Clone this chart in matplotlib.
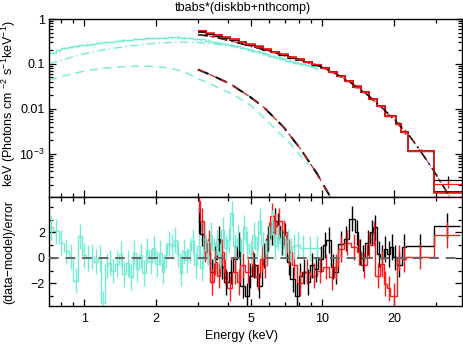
import numpy as np
import matplotlib
matplotlib.use("Agg")
import matplotlib.pyplot as plt
from matplotlib.ticker import FixedLocator, FixedFormatter, NullFormatter

plt.rcParams['font.family'] = ['Liberation Sans', 'DejaVu Sans']
plt.rcParams['mathtext.fontset'] = 'custom'
plt.rcParams['mathtext.rm'] = 'Liberation Sans'
plt.rcParams['mathtext.default'] = 'regular'
plt.rcParams['font.size'] = 9

# ---- NICER (cyan) spectrum, top panel: keV^2 * counts
nicer_edges = [0.71, 0.76, 0.80, 0.85, 0.90, 0.95, 1.0, 1.06, 1.12, 1.19,
               1.26, 1.34, 1.42, 1.5, 1.6, 1.7, 1.8, 1.9, 2.0, 2.12,
               2.25, 2.4, 2.55, 2.7, 2.85, 3.0, 3.2, 3.4, 3.6, 3.8,
               4.0, 4.25, 4.5, 4.75, 5.0, 5.3, 5.6, 5.9, 6.2, 6.6,
               7.0, 7.5, 8.0, 8.5, 9.0, 9.6]
nicer_flux = [0.175, 0.20, 0.225, 0.235, 0.245, 0.26, 0.27, 0.28, 0.29, 0.30,
              0.31, 0.325, 0.335, 0.345, 0.355, 0.365, 0.37, 0.375, 0.38, 0.385,
              0.39, 0.39, 0.385, 0.375, 0.365, 0.35, 0.33, 0.305, 0.29, 0.275,
              0.26, 0.245, 0.225, 0.21, 0.195, 0.18, 0.165, 0.152, 0.14, 0.128,
              0.115, 0.105, 0.097, 0.093, 0.09]
nicer_relerr = 0.06

# NICER model components
nicer_nth_e = [0.71, 0.8, 0.9, 1.0, 1.2, 1.5, 2.0, 2.5, 3.0, 3.5, 4.2, 5.0, 6.0, 7.0, 8.0, 9.0, 9.9]
nicer_nth = [0.10, 0.12, 0.145, 0.168, 0.205, 0.245, 0.29, 0.305, 0.30, 0.28, 0.245, 0.205,
             0.16, 0.128, 0.102, 0.085, 0.072]
nicer_disk_e = [0.71, 0.8, 0.9, 1.0, 1.2, 1.5, 1.8, 2.0, 2.3, 2.6, 3.0, 3.5, 4.2, 5.0, 6.0, 7.3, 8.8]
nicer_disk = [0.043, 0.052, 0.061, 0.069, 0.080, 0.088, 0.089, 0.087, 0.080, 0.068, 0.047,
              0.033, 0.021, 0.012, 0.0048, 0.0017, 0.00055]

# ---- NuSTAR FPMA (black) / FPMB (red), top panel
nu_edges = [3.0, 3.25, 3.5, 3.8, 4.1, 4.45, 4.8, 5.2, 5.65, 6.1,
            6.6, 7.15, 7.75, 8.4, 9.1, 9.85, 10.65, 11.5, 12.45, 13.45,
            14.55, 15.75, 17.05, 18.45, 20.4, 21.5, 23.0, 29.4, 39.0]
fpma_model = [0.52, 0.475, 0.43, 0.385, 0.345, 0.305, 0.27, 0.238, 0.208, 0.182,
              0.158, 0.137, 0.125, 0.109, 0.094, 0.080, 0.066, 0.053, 0.041, 0.031,
              0.0232, 0.0165, 0.0113, 0.0069, 0.0045, 0.0031, 0.00115, 0.00014]
fpmb_model = [0.54, 0.49, 0.445, 0.398, 0.356, 0.315, 0.278, 0.245, 0.214, 0.187,
              0.162, 0.140, 0.128, 0.111, 0.096, 0.081, 0.067, 0.054, 0.042, 0.0315,
              0.0235, 0.0167, 0.0114, 0.0070, 0.0046, 0.0031, 0.00115, 0.000135]
fpma_flux = [0.53, 0.47, 0.425, 0.39, 0.34, 0.30, 0.268, 0.24, 0.21, 0.183,
             0.16, 0.138, 0.126, 0.108, 0.095, 0.081, 0.067, 0.054, 0.042, 0.0305,
             0.0235, 0.0168, 0.0115, 0.0069, 0.0046, 0.0031, 0.00117, 0.00026]
fpmb_flux = [0.56, 0.485, 0.44, 0.395, 0.35, 0.312, 0.275, 0.243, 0.212, 0.188,
             0.163, 0.141, 0.127, 0.11, 0.097, 0.080, 0.066, 0.053, 0.0415, 0.031,
             0.0232, 0.0165, 0.0113, 0.0070, 0.0045, 0.0031, 0.00116, 0.00021]
nu_relerr = [0.02, 0.02, 0.02, 0.02, 0.02, 0.02, 0.02, 0.02, 0.02, 0.02,
             0.02, 0.025, 0.025, 0.025, 0.03, 0.03, 0.03, 0.035, 0.035, 0.04,
             0.045, 0.05, 0.055, 0.06, 0.08, 0.1, 0.08, 0.2]

nu_nth_e = [3.0, 3.5, 4.1, 4.83, 5.7, 6.66, 8.0, 9.5, 11.2, 13.1, 15.4, 18.1, 20.5,
            23.4, 26.0, 29.4, 33.4, 36.0]
nu_nth = [0.45, 0.40, 0.327, 0.26, 0.207, 0.163, 0.125, 0.094, 0.064, 0.039, 0.021,
          0.0098, 0.0051, 0.0024, 0.0011, 0.00042, 0.00014, 0.00007]
nu_disk_e = [3.0, 3.5, 4.1, 5.0, 5.66, 6.88, 8.08, 9.5, 10.8]
nu_disk = [0.075, 0.053, 0.036, 0.018, 0.011, 0.0039, 0.0013, 0.00036, 0.00011]

# ---- residuals (data-model)/error
nicer_res_edges = [0.71, 0.74, 0.78, 0.82, 0.86, 0.90, 0.94, 0.98, 1.02, 1.06,
                   1.10, 1.14, 1.18, 1.22, 1.26, 1.30, 1.345, 1.395, 1.445, 1.495,
                   1.545, 1.595, 1.645, 1.695, 1.75, 1.81, 1.87, 1.93, 1.99, 2.05,
                   2.11, 2.17, 2.235, 2.305, 2.375, 2.445, 2.515, 2.585, 2.66, 2.74,
                   2.82, 2.90, 2.985, 3.075, 3.165, 3.255, 3.35, 3.45, 3.55, 3.655,
                   3.765, 3.875, 3.99, 4.11, 4.235, 4.365, 4.495, 4.63, 4.775, 4.925,
                   5.075, 5.225, 5.38, 5.545, 5.715, 5.89, 6.07, 6.255, 6.445, 6.64,
                   6.845, 7.055, 7.27, 7.49, 7.72, 8.05, 8.6, 9.2, 9.9]
nicer_res = [2.4, 2.1, 1.2, 0.5, 0.1, -1.8, 1.7, 0.2, 0.0, 0.1,
             -0.3, 0.0, -3.6, -0.6, -0.4, -1.0, -0.5, 0.3, -1.3, -0.4,
             -1.5, 0.4, -0.9, 0.2, -1.2, 0.6, -0.3, 0.8, -0.5, 0.4,
             -1.1, 0.2, 1.1, 0.9, 1.4, 0.3, -1.2, 0.5, -0.2, 0.6,
             1.3, -0.6, 0.9, -0.8, 1.5, 0.4, 1.8, 0.6, 1.2, 0.2,
             2.2, 0.8, 1.4, 3.5, 0.9, 1.6, 0.5, 2.4, 1.1, 0.3,
             1.8, 0.7, 2.9, 1.0, 0.4, 1.5, 2.8, 0.9, 1.6, 1.2,
             0.8, 1.3, 0.6, 0.9, 1.0, 0.8, 0.75, 0.75]

fpma_res_edges = [3.0, 3.07, 3.17, 3.26, 3.36, 3.5, 3.6, 3.73, 3.86, 4.05,
                  4.22, 4.38, 4.53, 4.73, 4.9, 5.08, 5.3, 5.58, 5.82, 6.04,
                  6.24, 6.44, 6.66, 6.88, 7.1, 7.35, 7.7, 7.95, 8.25, 8.6,
                  8.9, 9.2, 9.6, 10.1, 10.4, 10.9, 11.2, 11.7, 12.3, 13.0,
                  13.7, 14.2, 14.6, 15.2, 15.9, 16.4, 17.0, 17.5, 18.1, 18.7,
                  19.3, 19.9, 20.6, 21.6, 22.6, 29.4, 38.0]
fpma_res = [2.9, 1.9, 0.9, 0.5, -1.1, -0.1, 1.5, -0.7, -1.9, -1.1,
            -0.1, 1.0, -2.2, -3.0, -1.4, -0.6, -2.2, 0.2, 1.5, 2.0,
            2.9, 2.5, 1.2, 1.75, -0.35, -1.7, -3.0, -1.4, -1.1, -1.9,
            -0.6, -0.9, -0.1, 1.0, 1.4, -0.7, -1.1, 1.1, 1.5, 3.1,
            2.0, 0.45, 0.0, 1.2, 2.0, 2.4, 0.3, 0.0, 0.7, 0.3,
            0.85, 0.05, -0.55, 0.85, 0.9, 2.55]

fpmb_res_edges = [3.0, 3.07, 3.17, 3.28, 3.39, 3.5, 3.61, 3.73, 3.86, 3.98,
                  4.18, 4.38, 4.53, 4.73, 4.98, 5.22, 5.49, 5.66, 5.86, 6.04,
                  6.24, 6.44, 6.77, 7.1, 7.45, 7.83, 8.33, 8.9, 9.5, 10.1,
                  10.7, 11.2, 11.7, 12.3, 13.2, 14.0, 14.6, 15.4, 16.2, 16.7,
                  17.5, 18.1, 18.7, 19.3, 20.6, 21.6, 22.6, 29.4, 38.0]
fpmb_res = [4.5, 2.9, 0.7, 1.2, -1.9, -0.35, -1.4, 0.45, -1.1, -2.4,
            -1.1, -1.9, -0.6, -1.1, -0.5, -1.5, -0.1, -0.6, 1.8, 3.3,
            2.55, 2.9, 2.0, 0.45, -0.6, -2.0, -1.1, -1.4, -1.0, -0.7,
            -1.5, -0.7, 0.7, 1.2, 0.85, 0.45, -0.6, 1.0, 1.9, -1.4,
            -0.5, -2.05, -2.4, -3.0, 0.05, -0.1, 0.1, 1.8]
res_err = 1.0

CYAN = '#74ecd4'
RED = '#ff1a1a'


def mids(edges):
    e = np.asarray(edges)
    return np.sqrt(e[:-1] * e[1:])


def xerrs(edges):
    e = np.asarray(edges)
    c = mids(edges)
    return [c - e[:-1], e[1:] - c]


fig = plt.figure(figsize=(4.64, 3.46), dpi=100)
W, H = 464.0, 346.0
ax1 = fig.add_axes([49 / W, 1 - 197 / H, 413 / W, 178 / H])
ax2 = fig.add_axes([49 / W, 1 - 306 / H, 413 / W, 109 / H])

# ---------------- top panel
c = mids(nicer_edges)
f = np.asarray(nicer_flux)
ax1.stairs(nicer_flux, nicer_edges, color=CYAN, lw=1.0, baseline=None)
ax1.errorbar(c, f, yerr=f * nicer_relerr, xerr=xerrs(nicer_edges), fmt='none',
             ecolor=CYAN, elinewidth=0.8)
ax1.plot(nicer_nth_e, nicer_nth, color=CYAN, lw=1.0, dashes=(6, 2.5, 1, 2.5))
ax1.plot(nicer_disk_e, nicer_disk, color=CYAN, lw=1.0, dashes=(6, 4))

ax1.plot(nu_disk_e, nu_disk, color='black', lw=1.4, dashes=(6, 4))
ax1.plot(nu_disk_e, nu_disk, color='#c81e1e', lw=0.9, dashes=(6, 4))
ax1.plot(nu_nth_e, nu_nth, color='black', lw=1.2, dashes=(6, 2.5, 1, 2.5))
ax1.plot(nu_nth_e, nu_nth, color='#c81e1e', lw=0.7, dashes=(6, 2.5, 1, 2.5))

cn = mids(nu_edges)
rel = np.asarray(nu_relerr)
for model, flux, col in [(fpma_model, fpma_flux, 'black'), (fpmb_model, fpmb_flux, RED)]:
    ax1.stairs(model, nu_edges, color=col, lw=1.2, baseline=None)
    fl = np.asarray(flux)
    ax1.errorbar(cn, fl, yerr=fl * rel, xerr=xerrs(nu_edges), fmt='none',
                 ecolor=col, elinewidth=0.9)

ax1.set_xscale('log')
ax1.set_yscale('log')
ax1.set_xlim(0.71, 38.7)
ax1.set_ylim(1.08e-4, 1.0)

# ---------------- residual panel
for edges, res, col in [(fpma_res_edges, fpma_res, 'black'),
                        (fpmb_res_edges, fpmb_res, RED),
                        (nicer_res_edges, nicer_res, CYAN)]:
    ax2.stairs(res, edges, color=col, lw=1.0, baseline=None)
    r = np.asarray(res)
    ax2.vlines(mids(edges), r - res_err, r + res_err, color=col, lw=1.0)
ax2.axhline(0, color='#666666', lw=1.4, dashes=(5, 3.5), zorder=5)
ax2.set_xscale('log')
ax2.set_xlim(0.71, 38.7)
ax2.set_ylim(-3.8, 4.8)

# ---------------- ticks
xmaj = [1, 2, 5, 10, 20]
xmin = [0.8, 0.9, 3, 4, 6, 7, 8, 9, 30]
for ax in (ax1, ax2):
    ax.xaxis.set_major_locator(FixedLocator(xmaj))
    ax.xaxis.set_minor_locator(FixedLocator(xmin))
    ax.xaxis.set_minor_formatter(NullFormatter())
    ax.tick_params(which='both', direction='in', top=True, right=True, width=0.9,
                   labelsize=9, pad=3)
    ax.tick_params(which='major', length=5)
    ax.tick_params(which='minor', length=3)
    for s in ax.spines.values():
        s.set_linewidth(1.0)

ax1.xaxis.set_major_formatter(NullFormatter())
ax2.xaxis.set_major_formatter(FixedFormatter(['1', '2', '5', '10', '20']))
ax2.tick_params(axis='x', pad=5)

ax1.yaxis.set_major_locator(FixedLocator([1e-3, 1e-2, 1e-1, 1]))
ax1.yaxis.set_major_formatter(FixedFormatter(['$10^{-3}$', '0.01', '0.1', '1']))
ax1.yaxis.set_minor_locator(matplotlib.ticker.LogLocator(base=10, subs=np.arange(2, 10)))
ax1.yaxis.set_minor_formatter(NullFormatter())

ax2.yaxis.set_major_locator(FixedLocator([-2, 0, 2]))
ax2.yaxis.set_minor_locator(FixedLocator([-3, -1, 1, 3, 4]))

# ---------------- labels
fig.text(243 / W, 1 - 8 / H, 'tbabs*(diskbb+nthcomp)', ha='center', va='center', fontsize=9)
fig.text(242 / W, 1 - 336 / H, 'Energy (keV)', ha='center', va='center', fontsize=9)
fig.text(9 / W, 1 - 104 / H, 'keV (Photons cm $^{-2}$ s$^{-1}$keV$^{-1}$)', rotation=90,
         ha='center', va='center', fontsize=9)
fig.text(9 / W, 1 - 252 / H, '(data\u2212model)/error', rotation=90,
         ha='center', va='center', fontsize=9)

fig.savefig('out.png', dpi=100)
